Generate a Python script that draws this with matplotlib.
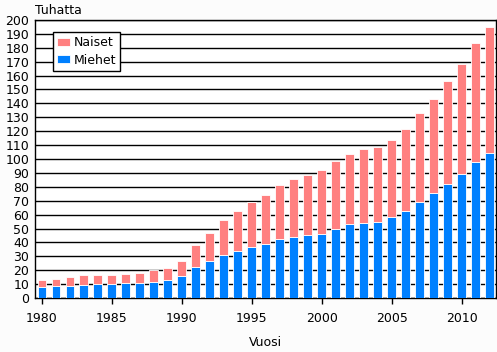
import matplotlib
matplotlib.use("Agg")
import matplotlib.pyplot as plt
import numpy as np

years = list(range(1980, 2013))
miehet = [7.9, 8.6, 8.6, 9.0, 10.0, 10.2, 10.7, 10.7, 11.4, 12.9, 15.7, 22.1, 26.4, 30.7, 33.6,
          36.4, 38.6, 42.1, 44.0, 45.0, 46.4, 50.0, 52.9, 54.3, 55.0, 58.3, 62.6, 69.0, 75.5,
          82.1, 89.0, 97.6, 104.0]
naiset = [5.4, 5.4, 6.2, 7.2, 6.9, 6.7, 6.9, 7.6, 8.4, 9.0, 11.2, 16.2, 20.5, 25.5, 29.0,
          32.6, 35.4, 39.1, 41.5, 43.3, 45.5, 48.8, 50.9, 53.1, 53.8, 55.5, 59.1, 64.1, 67.6,
          73.9, 79.1, 85.5, 91.2]
yticks = list(range(0, 201, 10))
xticks = [1980, 1985, 1990, 1995, 2000, 2005, 2010]

blue = "#0080FF"
pink = "#FF8080"

fig = plt.figure(figsize=(4.97, 3.52), dpi=100, facecolor="#FCFCFC")
ax = fig.add_axes([35/497, 1-298/352, 461/497, 278/352])
ax.set_facecolor("white")

ax.bar(years, miehet, width=0.64, color=blue, edgecolor="white", linewidth=0.6, label="Miehet", zorder=3)
ax.bar(years, naiset, bottom=miehet, width=0.64, color=pink, edgecolor="white", linewidth=0.6, label="Naiset", zorder=3)

ax.set_xlim(1979.5, 2012.45)
ax.set_ylim(0, 200)
ax.set_yticks(yticks)
ax.set_xticks(xticks)
ax.yaxis.grid(True, color="black", linewidth=1.0, zorder=1)
ax.set_axisbelow(True)
ax.tick_params(axis="y", length=0, pad=4, labelsize=9)
ax.tick_params(axis="x", length=4, width=1, pad=6, labelsize=9, direction="out")
for s in ax.spines.values():
    s.set_color("black")
    s.set_linewidth(1.0)

ax.text(0.0, 1.012, "Tuhatta", transform=ax.transAxes, fontsize=9, ha="left", va="bottom")
fig.text(265/497, 1-343/352, "Vuosi", fontsize=9, ha="center", va="center")

h, l = ax.get_legend_handles_labels()
leg = ax.legend(h[::-1], l[::-1], loc="upper left", bbox_to_anchor=(0.039, 0.957), fontsize=9,
                frameon=True, fancybox=False, edgecolor="black", framealpha=1, borderaxespad=0,
                handlelength=1.0, handleheight=0.6, handletextpad=0.3, borderpad=0.35, labelspacing=0.35)
leg.get_frame().set_linewidth(1.0)

fig.savefig("out.png", dpi=100, facecolor=fig.get_facecolor())
